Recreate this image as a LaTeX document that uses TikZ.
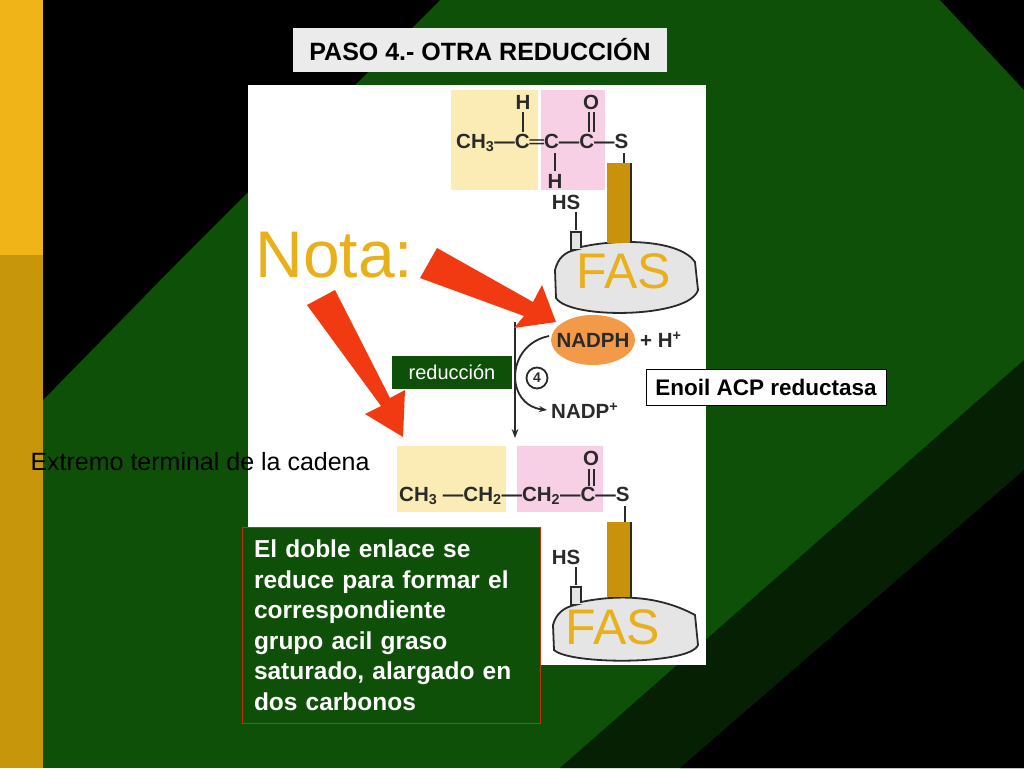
\documentclass[tikz,border=0pt]{standalone}
\usepackage{fontspec}
\setmainfont{Liberation Sans}
\usetikzlibrary{arrows.meta,shapes.geometric}
\definecolor{bggreen}{HTML}{0F5008}
\definecolor{gold}{HTML}{F0B418}
\definecolor{golddark}{HTML}{C8960A}
\definecolor{fasy}{HTML}{E8B01A}
\definecolor{chemy}{HTML}{FBEBB5}
\definecolor{chemp}{HTML}{F8D0E6}
\definecolor{bar}{HTML}{C8920A}
\definecolor{nred}{HTML}{F23A12}
\definecolor{orng}{HTML}{F39A48}
\definecolor{chem}{HTML}{2A2A2A}
\tikzset{
 chemt/.style={font=\bfseries\fontsize{20.5}{20}\selectfont, text=chem, inner sep=0},
 fastxt/.style={font=\fontsize{50}{50}\selectfont, text=fasy},
 redarrow/.style={draw=none, fill=nred},
}
\begin{document}
\begin{tikzpicture}[x=1pt,y=-1pt]
\useasboundingbox (0,0) rectangle (1024,768);
% background
\fill[bggreen] (0,0) rectangle (1024,768);
\fill[black] (43,0) -- (440,0) -- (180,260) -- (43,400) -- cycle;
\fill[black] (940,0) -- (1024,0) -- (1024,90) -- cycle;
\fill[black!60!bggreen] (560,768) -- (1024,360) -- (1024,768) -- cycle;
\fill[black] (680,768) -- (1024,470) -- (1024,768) -- cycle;
\fill[gold] (0,0) rectangle (43,255);
\fill[golddark] (0,255) rectangle (43,768);
% title
\node[fill=black!8, minimum width=374, minimum height=44, font=\bfseries\fontsize{25}{25}\selectfont] (title) at (480,50) {PASO 4.- OTRA REDUCCIÓN};
% panel
\fill[white] (248,85) rectangle (706,665);
% top molecule
\fill[chemy] (451,90) rectangle (538,190);
\fill[chemp] (541,90) rectangle (605,190);
\node[chemt, anchor=west] (m1) at (456,143) {CH\textsubscript{3}—C═C—C—S};
\node[chemt] (h1) at (523,102) {H};
\node[chemt] (o1) at (591,102) {O};
\node[chemt] (h2) at (555,181) {H};
\draw[chem, line width=2.2] (523,112) -- (523,132);
\draw[chem, line width=2] (588.5,112) -- (588.5,132) (593.5,112) -- (593.5,132);
\draw[chem, line width=2.2] (555,153) -- (555,171);
\node[chemt] (hs1) at (566,202) {HS};
\draw[chem, line width=2] (624,153) -- (624,163);
\draw[chem, line width=1.8] (576,212) -- (576,230);
% FAS 1
\fill[bar] (607,163) rectangle (631,245);
\draw[chem, line width=1.5] (631,163) -- (631,245);
\draw[chem, line width=1.8, fill=black!10] (575,250) -- (571,250) -- (571,232) -- (581,232) -- (581,247)
  .. controls (620,238) and (680,240) .. (695,262) -- (698,290) .. controls (690,318) and (570,320) .. (556,298) -- (555,270) .. controls (558,258) and (565,252) .. (575,250) -- cycle;
\fill[bar] (607,200) rectangle (630,243);
\node[fastxt] (fas1) at (624,271) {FAS};
% Nota
\node[font=\fontsize{66}{66}\selectfont, text=fasy, anchor=west] (nota) at (252,255) {Nota:};
% middle
\draw[chem, line width=1.8, -{Stealth[length=9]}] (515,322) -- (515,438);
\node[fill=orng, ellipse, minimum width=84, minimum height=50, inner sep=0] (nadph) at (593,340) {};
\node[chemt] at (nadph) {NADPH};
\node[chemt, anchor=west] (hp) at (640,340) {+ H\textsuperscript{+}};
\draw[chem, line width=1.8, -{Stealth[length=8]}] (549,336) .. controls (505,345) and (505,405) .. (547,410);
\node[circle, draw=chem, fill=white, line width=1.8, minimum size=21, inner sep=0, text=chem, font=\bfseries\fontsize{14}{14}\selectfont] (four) at (537,378) {4};
\node[chemt, anchor=west] (nadp) at (551,411) {NADP\textsuperscript{+}};
\node[fill=bggreen, minimum width=120, minimum height=33, text=white, font=\fontsize{20}{20}\selectfont] (red) at (452,372) {reducción};
\node[fill=white, draw=black, line width=0.8, minimum width=240, minimum height=36, font=\bfseries\fontsize{22.5}{22}\selectfont] (enoil) at (766,387) {Enoil ACP reductasa};
% arrows red
\fill[redarrow] (420,278) -- (437,248) -- (533,302) -- (542,285) -- (556,322) -- (514,328) -- (524,316) -- cycle;
\fill[redarrow] (307,305) -- (335,290) -- (390,398) -- (405,390) -- (403,437) -- (365,414) -- (381,406) -- cycle;
% text left
\node[anchor=west, font=\fontsize{25}{25}\selectfont] (ext) at (27,462) {Extremo terminal de la cadena};
% bottom molecule
\fill[chemy] (397,446) rectangle (506,512);
\fill[chemp] (517,446) rectangle (603,512);
\node[chemt, anchor=west] (m2) at (399,496) {CH\textsubscript{3} —CH\textsubscript{2}—CH\textsubscript{2}—C—S};
\node[chemt] (o2) at (591,458) {O};
\draw[chem, line width=2] (588.5,469) -- (588.5,486) (593.5,469) -- (593.5,486);
\draw[chem, line width=2] (625,506) -- (625,522);
\node[chemt] (hs2) at (566,557) {HS};
\draw[chem, line width=1.8] (576,567) -- (576,585);
\draw[chem, line width=1.8, fill=black!10] (575,605) -- (571,605) -- (571,587) -- (581,587) -- (581,602)
  .. controls (620,594) and (660,596) .. (695,615) -- (698,645) .. controls (690,665) and (570,665) .. (554,650) -- (553,625) .. controls (556,613) and (565,607) .. (575,605) -- cycle;
\fill[bar] (607,522) rectangle (630,597);
\draw[chem, line width=1.5] (631,522) -- (631,597);
\node[fastxt] (fas2) at (613,627) {FAS};
% text box
\node[fill=bggreen, draw=nred!80!black, line width=0.8, minimum width=298, minimum height=196, anchor=north west, text=white,
  font=\bfseries\fontsize{24.5}{30.5}\selectfont, align=left, text width=274, inner xsep=12, inner ysep=5, outer sep=0] (box) at (242,527)
  {El doble enlace se\\reduce para formar el\\correspondiente\\grupo acil graso\\saturado, alargado en\\dos carbonos};
\end{tikzpicture}
\end{document}
